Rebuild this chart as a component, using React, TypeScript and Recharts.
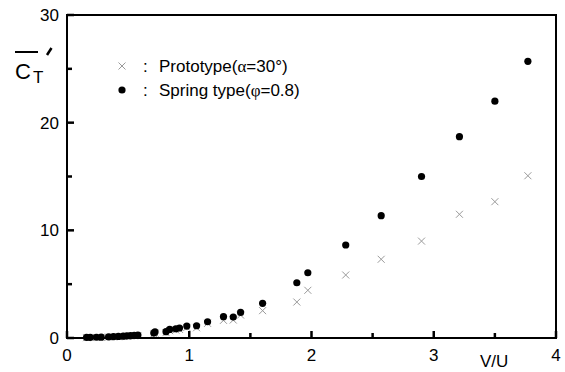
import React from 'react';
import {
  ScatterChart,
  Scatter,
  XAxis,
  YAxis,
  Legend,
} from 'recharts';

// V/U values and C_T' readings
const springX = [
  0.16, 0.19, 0.24, 0.28, 0.34, 0.38, 0.42, 0.46, 0.49, 0.52, 0.55, 0.58, 0.71, 0.72, 0.81,
  0.84, 0.89, 0.92, 0.98, 1.06, 1.15, 1.28, 1.36, 1.42, 1.6, 1.88, 1.97, 2.28, 2.57, 2.9,
  3.21, 3.5, 3.77,
];
const springY = [
  0.05, 0.06, 0.07, 0.08, 0.1, 0.12, 0.15, 0.17, 0.2, 0.22, 0.25, 0.28, 0.46, 0.56, 0.59,
  0.8, 0.86, 0.93, 1.11, 1.14, 1.51, 1.98, 1.95, 2.38, 3.22, 5.13, 6.06, 8.64, 11.36, 15.0,
  18.7, 22.0, 25.7,
];
const protoX = [
  0.16, 0.19, 0.24, 0.28, 0.34, 0.38, 0.42, 0.46, 0.49, 0.52, 0.55, 0.58, 0.71, 0.72, 0.81,
  0.84, 0.89, 0.92, 0.98, 1.06, 1.15, 1.28, 1.36, 1.42, 1.6, 1.88, 1.97, 2.28, 2.57, 2.9,
  3.21, 3.5, 3.77,
];
const protoY = [
  0.03, 0.04, 0.05, 0.06, 0.08, 0.1, 0.12, 0.14, 0.16, 0.18, 0.2, 0.23, 0.38, 0.45, 0.5,
  0.68, 0.74, 0.8, 0.98, 0.95, 1.36, 1.64, 1.67, 2.13, 2.54, 3.34, 4.43, 5.85, 7.31, 9.0,
  11.49, 12.66, 15.07,
];

const xTicks = [0, 0.5, 1, 1.5, 2, 2.5, 3, 3.5, 4];
const yTicks = [0, 5, 10, 15, 20, 25, 30];

const springData = springX.map((x, i) => ({ x, y: springY[i] }));
const protoData = protoX.map((x, i) => ({ x, y: protoY[i] }));

const FONT = '"Liberation Sans", Arial, sans-serif';
const INK = '#000';

const CrossShape = (props: any) => {
  const { cx, cy } = props;
  const s = 3.5;
  return (
    <g stroke="#9a9a9a" strokeWidth={1}>
      <line x1={cx - s} y1={cy - s} x2={cx + s} y2={cy + s} />
      <line x1={cx - s} y1={cy + s} x2={cx + s} y2={cy - s} />
    </g>
  );
};

const DotShape = (props: any) => {
  const { cx, cy } = props;
  return <circle cx={cx} cy={cy} r={3.6} fill={INK} />;
};

// tick mark drawn inward, label on whole numbers only
const XTick = (props: any) => {
  const { x, y, payload } = props;
  const major = Number.isInteger(payload.value);
  return (
    <g>
      <path d={`M${x},${y}V${y - (major ? 7 : 5)}`} stroke={INK} strokeWidth={2.5} fill="none" />
      {major && (
        <text x={x} y={y + 22.5} textAnchor="middle" fontSize={17} fontFamily={FONT} fill={INK}>
          {payload.value}
        </text>
      )}
    </g>
  );
};

const YTick = (props: any) => {
  const { x, y, payload } = props;
  const major = payload.value % 10 === 0;
  return (
    <g>
      <path d={`M${x},${y}H${x + (major ? 7 : 5)}`} stroke={INK} strokeWidth={2.5} fill="none" />
      {major && (
        <text x={x - 8} y={y + 6} textAnchor="end" fontSize={17} fontFamily={FONT} fill={INK}>
          {payload.value}
        </text>
      )}
    </g>
  );
};

const YLabel = () => (
  <g fontFamily={FONT} fill={INK}>
    <line x1={15} y1={52} x2={38} y2={52} stroke={INK} strokeWidth={2} />
    <text x={15} y={79} fontSize={22}>C</text>
    <text x={33} y={83} fontSize={17}>T</text>
    <line x1={51.5} y1={48} x2={47} y2={55} stroke={INK} strokeWidth={2.5} />
  </g>
);

const XLabel = () => (
  <text x={480} y={367} fontSize={17} fontFamily={FONT} fill={INK}>V/U</text>
);

// legend entries plus the plot frame, in one overlay
const LegendBox = () => (
  <svg width={565} height={372} style={{ display: 'block' }}>
    <rect x={67} y={15} width={489} height={323} stroke={INK} strokeWidth={2} fill="none" />
    <g stroke="#9a9a9a" strokeWidth={1}>
      <line x1={118.5} y1={62.5} x2={125.5} y2={69.5} />
      <line x1={118.5} y1={69.5} x2={125.5} y2={62.5} />
    </g>
    <circle cx={122} cy={90} r={3.6} fill={INK} />
    <g fontFamily={FONT} fontSize={17} fill={INK}>
      <text x={143} y={72}>:</text>
      <text x={159} y={72}>
        Prototype(<tspan fontFamily='"Liberation Serif", serif'>α</tspan>=30°)
      </text>
      <text x={143} y={96}>:</text>
      <text x={159} y={96}>
        Spring type(<tspan fontFamily='"Liberation Serif", serif'>φ</tspan>=0.8)
      </text>
    </g>
  </svg>
);

export default function App() {
  return (
    <div style={{ position: 'absolute', left: 0, top: 0, width: 565, height: 372, background: '#fff' }}>
      <ScatterChart width={565} height={372} margin={{ top: 15, right: 9, left: 0, bottom: 0 }}>
        <XAxis
          type="number"
          dataKey="x"
          domain={[0, 4]}
          ticks={xTicks}
          height={34}
          tickSize={0}
          tickMargin={0}
          tickLine={false}
          axisLine={{ stroke: INK, strokeWidth: 2 }}
          tick={<XTick />}
          interval={0}
          label={{ content: <XLabel /> }}
        />
        <YAxis
          type="number"
          dataKey="y"
          domain={[0, 30]}
          ticks={yTicks}
          width={67}
          tickSize={0}
          tickMargin={0}
          tickLine={false}
          axisLine={{ stroke: INK, strokeWidth: 2 }}
          tick={<YTick />}
          interval={0}
          label={{ content: <YLabel /> }}
        />
        <Legend
          layout="horizontal"
          verticalAlign="middle"
          align="center"
          content={<LegendBox />}
          wrapperStyle={{ position: 'absolute', left: 0, top: 0, width: 565, height: 372 }}
        />
        <Scatter name="Prototype" data={protoData} shape={<CrossShape />} isAnimationActive={false} />
        <Scatter name="Spring type" data={springData} shape={<DotShape />} isAnimationActive={false} />
      </ScatterChart>
    </div>
  );
}
